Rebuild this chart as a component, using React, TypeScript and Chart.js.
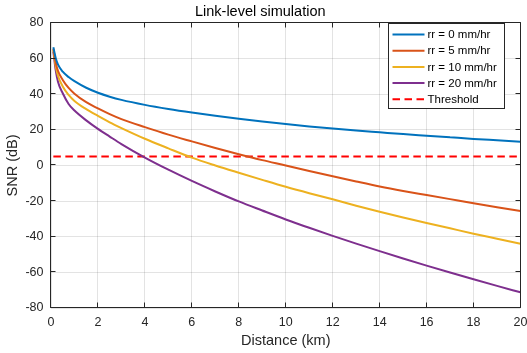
import React, { useEffect, useRef } from "react";
import { Chart, registerables } from "chart.js";

Chart.register(...registerables);

// ---- data ----
const distanceKm = [0.1, 0.2, 0.3, 0.5, 0.75, 1, 1.5, 2, 2.5, 3, 4, 5, 6, 7, 8, 9, 10, 11, 12, 13, 14, 15, 16, 17, 18, 19, 20];
const snrRain0 = [66.3, 60.3, 56.6, 52.6, 49.6, 47.3, 43.6, 40.8, 38.6, 36.8, 34.0, 31.7, 29.7, 27.9, 26.2, 24.6, 23.2, 21.9, 20.7, 19.6, 18.6, 17.6, 16.7, 15.8, 14.9, 14.1, 13.3];
const snrRain5 = [65.5, 57.8, 53.0, 48.0, 43.5, 40.3, 35.5, 32.0, 28.8, 26.0, 21.5, 17.3, 13.5, 9.8, 6.3, 3.0, 0.0, -3.1, -6.1, -9.0, -11.8, -14.3, -16.6, -18.9, -21.2, -23.4, -25.5];
const snrRain10 = [64.8, 55.8, 50.2, 44.3, 39.6, 36.2, 31.6, 27.8, 24.2, 21.0, 15.0, 9.6, 4.4, 0.0, -4.1, -8.1, -12.0, -15.6, -19.0, -22.6, -26.0, -29.2, -32.3, -35.3, -38.3, -41.1, -43.9];
const snrRain20 = [63.9, 53.5, 46.8, 40.5, 34.5, 30.8, 25.3, 20.5, 16.2, 12.0, 4.4, -2.4, -8.7, -14.6, -20.2, -25.3, -30.3, -35.0, -39.5, -43.9, -48.1, -52.2, -56.2, -60.1, -63.9, -67.6, -71.2];
const thresholdX = [0.1, 20];
const thresholdY = [5, 5];
const seriesLabels = ["rr = 0 mm/hr", "rr = 5 mm/hr", "rr = 10 mm/hr", "rr = 20 mm/hr", "Threshold"];
const seriesColors = ["#0072BD", "#D95319", "#EDB120", "#7E2F8E", "#FF0000"];
const xTickValues = [0, 2, 4, 6, 8, 10, 12, 14, 16, 18, 20];
const yTickValues = [-80, -60, -40, -20, 0, 20, 40, 60, 80];
const chartTitle = "Link-level simulation";
const xAxisTitle = "Distance (km)";
const yAxisTitle = "SNR (dB)";

const FONT = "'Liberation Sans', Arial, Helvetica, sans-serif";
const AX = "#262626";

const toPoints = (xs: number[], ys: number[]) => xs.map((x, i) => ({ x, y: ys[i] }));

const framePlugin = {
  id: "matlabFrame",
  afterDatasetsDraw(chart: any) {
    const { ctx, chartArea, scales } = chart;
    const { left, right, top, bottom } = chartArea;
    const L = Math.round(left) - 0.5;
    const R = Math.round(right) - 0.5;
    const T = Math.round(top) - 0.5;
    const B = Math.round(bottom) - 0.5;
    ctx.save();
    ctx.strokeStyle = AX;
    ctx.lineWidth = 1;
    ctx.beginPath();
    ctx.rect(L, T, R - L, B - T);
    ctx.stroke();
    const tl = 5;
    ctx.beginPath();
    xTickValues.forEach((v) => {
      const px = Math.round(scales.x.getPixelForValue(v)) - 0.5;
      ctx.moveTo(px, B);
      ctx.lineTo(px, B - tl);
      ctx.moveTo(px, T);
      ctx.lineTo(px, T + tl);
    });
    yTickValues.forEach((v) => {
      const py = Math.round(scales.y.getPixelForValue(v)) - 0.5;
      ctx.moveTo(L, py);
      ctx.lineTo(L + tl, py);
      ctx.moveTo(R, py);
      ctx.lineTo(R - tl, py);
    });
    ctx.stroke();
    ctx.restore();
  },
};

const legendPlugin = {
  id: "matlabLegend",
  afterDraw(chart: any) {
    const { ctx, chartArea } = chart;
    const w = 116;
    const h = 85;
    const lx = Math.round(chartArea.right - 132.5) + 0.5;
    const ly = Math.round(chartArea.top) + 0.5;
    ctx.save();
    ctx.fillStyle = "#ffffff";
    ctx.fillRect(lx, ly, w, h);
    ctx.strokeStyle = AX;
    ctx.lineWidth = 1;
    ctx.strokeRect(lx, ly, w, h);
    chart.data.datasets.forEach((ds: any, i: number) => {
      const yy = ly + 11 + i * 16.2;
      ctx.beginPath();
      ctx.strokeStyle = ds.borderColor;
      ctx.lineWidth = 2;
      ctx.setLineDash(ds.borderDash || []);
      ctx.moveTo(lx + 4, yy);
      ctx.lineTo(lx + 36, yy);
      ctx.stroke();
      ctx.setLineDash([]);
      ctx.fillStyle = "#000000";
      ctx.font = `11.5px ${FONT}`;
      ctx.textBaseline = "middle";
      ctx.textAlign = "left";
      ctx.fillText(ds.label, lx + 39, yy + 0.5);
    });
    ctx.restore();
  },
};

export default function App() {
  const canvasRef = useRef<HTMLCanvasElement | null>(null);

  useEffect(() => {
    if (!canvasRef.current) return;
    const seriesValues = [snrRain0, snrRain5, snrRain10, snrRain20];
    const datasets: any[] = seriesValues.map((vals, i) => ({
      label: seriesLabels[i],
      data: toPoints(distanceKm, vals),
      borderColor: seriesColors[i],
      backgroundColor: seriesColors[i],
      borderWidth: 2,
      pointRadius: 0,
      cubicInterpolationMode: "monotone",
      fill: false,
    }));
    datasets.push({
      label: seriesLabels[4],
      data: toPoints(thresholdX, thresholdY),
      borderColor: seriesColors[4],
      backgroundColor: seriesColors[4],
      borderWidth: 2,
      borderDash: [7.5, 4.5],
      pointRadius: 0,
      fill: false,
    });

    const chart = new Chart(canvasRef.current, {
      type: "line",
      data: { datasets },
      options: {
        animation: false,
        responsive: false,
        devicePixelRatio: 1,
        layout: { padding: { left: 0, right: 6.5, top: 0, bottom: 0 } },
        plugins: {
          legend: { display: false },
          tooltip: { enabled: false },
          title: {
            display: true,
            text: chartTitle,
            color: "#000000",
            font: { family: FONT, size: 14.5, weight: "normal", lineHeight: 1.2 },
            padding: { top: 3.5, bottom: 2 },
          },
        },
        scales: {
          x: {
            type: "linear",
            min: 0,
            max: 20,
            afterBuildTicks: (scale: any) => {
              scale.ticks = xTickValues.map((v) => ({ value: v }));
            },
            ticks: {
              color: AX,
              font: { family: FONT, size: 12.5 },
              padding: 7,
              maxRotation: 0,
              autoSkip: false,
            },
            grid: { color: "rgba(38,38,38,0.13)", lineWidth: 1, drawTicks: false },
            border: { display: false },
            title: {
              display: true,
              text: xAxisTitle,
              color: AX,
              font: { family: FONT, size: 14.5, lineHeight: 1.2 },
              padding: { top: 0, bottom: 3.5 },
            },
            afterFit: (scale: any) => {
              scale.height = 45;
              scale.paddingLeft = 0;
              scale.paddingRight = 0;
            },
          },
          y: {
            type: "linear",
            min: -80,
            max: 80,
            afterBuildTicks: (scale: any) => {
              scale.ticks = yTickValues.map((v) => ({ value: v }));
            },
            ticks: {
              color: AX,
              font: { family: FONT, size: 12.5 },
              padding: 7.5,
              autoSkip: false,
            },
            grid: { color: "rgba(38,38,38,0.13)", lineWidth: 1, drawTicks: false },
            border: { display: false },
            title: {
              display: true,
              text: yAxisTitle,
              color: AX,
              font: { family: FONT, size: 14.5, lineHeight: 1.2 },
              padding: { top: 4.7, bottom: 0 },
            },
            afterFit: (scale: any) => {
              scale.width = 51;
              scale.paddingTop = 0;
              scale.paddingBottom = 0;
            },
          },
        },
      } as any,
      plugins: [framePlugin, legendPlugin],
    });
    return () => chart.destroy();
  }, []);

  return (
    <div style={{ position: "fixed", left: 0, top: 0, width: 527, height: 353, background: "#ffffff" }}>
      <canvas ref={canvasRef} width={527} height={353} style={{ display: "block", width: 527, height: 353 }} />
    </div>
  );
}
